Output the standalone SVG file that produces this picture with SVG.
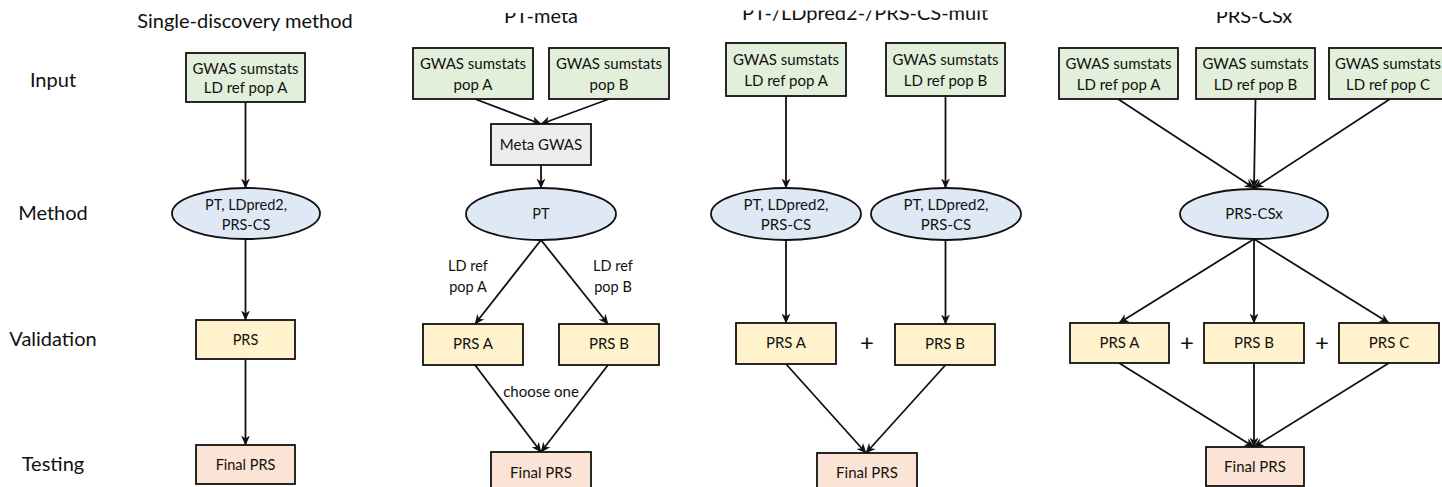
<svg xmlns="http://www.w3.org/2000/svg" width="1442" height="487" viewBox="0 0 1442 487">
<style>
text{font-family:Lato,"Open Sans","Liberation Sans",sans-serif;fill:#111;text-anchor:middle;}
.title{font-size:20px;}
.row{font-size:20px;}
.t{font-size:15px;}
.s{font-size:14.5px;}
.in{fill:#e2efda;stroke:#111;stroke-width:1.8;}
.meta{fill:#ededed;stroke:#111;stroke-width:1.8;}
.me{fill:#dee9f5;stroke:#111;stroke-width:1.8;}
.val{fill:#fff2cc;stroke:#111;stroke-width:1.8;}
.fin{fill:#fbe4d6;stroke:#111;stroke-width:1.8;}
.c line{stroke:#111;stroke-width:1.8;marker-end:url(#ah);}
.plus{font-size:24px;}
</style>
<defs>
<marker id="ah" viewBox="0 0 10 10" refX="9.5" refY="5" markerWidth="10" markerHeight="10" markerUnits="userSpaceOnUse" orient="auto">
<path d="M0,0.5 L10,5 L0,9.5 L3,5 z" fill="#111"/>
</marker>
<clipPath id="c2"><rect x="0" y="13" width="1442" height="30"/></clipPath>
<clipPath id="c3"><rect x="0" y="10.5" width="1442" height="30"/></clipPath>
<clipPath id="c4"><rect x="0" y="12" width="1442" height="30"/></clipPath>
</defs>
<rect width="1442" height="487" fill="#fff"/>

<g id="titles">
<text class="title" x="245" y="28">Single-discovery method</text>
<text class="title" x="541" y="23" clip-path="url(#c2)">PT-meta</text>
<text class="title" x="865" y="20" clip-path="url(#c3)">PT-/LDpred2-/PRS-CS-mult</text>
<text class="title" x="1254" y="23" clip-path="url(#c4)">PRS-CSx</text>
</g>

<g id="row-labels">
<text class="row" x="53" y="87">Input</text>
<text class="row" x="53" y="220">Method</text>
<text class="row" x="53" y="346">Validation</text>
<text class="row" x="53" y="471">Testing</text>
</g>

<g class="c" id="connectors">
<line x1="245.5" y1="102" x2="245.5" y2="188"/>
<line x1="245.5" y1="239" x2="245.5" y2="320"/>
<line x1="245.5" y1="359" x2="245.5" y2="445"/>

<line x1="475" y1="99" x2="541" y2="124"/>
<line x1="609" y1="99" x2="541" y2="124"/>
<line x1="541" y1="165" x2="541" y2="188"/>
<line x1="541" y1="240" x2="475" y2="324"/>
<line x1="541" y1="240" x2="608" y2="324"/>
<line x1="475" y1="365" x2="541" y2="452"/>
<line x1="608" y1="365" x2="541" y2="452"/>

<line x1="786" y1="96" x2="786" y2="188"/>
<line x1="945.5" y1="96" x2="945.5" y2="188"/>
<line x1="786" y1="240" x2="786" y2="323"/>
<line x1="945.5" y1="240" x2="945.5" y2="324"/>
<line x1="786" y1="364" x2="866" y2="453"/>
<line x1="945.5" y1="365" x2="866" y2="453"/>

<line x1="1118" y1="99" x2="1254" y2="188"/>
<line x1="1255.5" y1="99" x2="1254" y2="188"/>
<line x1="1390" y1="99" x2="1254" y2="188"/>
<line x1="1254" y1="239" x2="1119" y2="323"/>
<line x1="1254" y1="239" x2="1254" y2="323"/>
<line x1="1254" y1="239" x2="1389" y2="323"/>
<line x1="1119" y1="363" x2="1254" y2="447"/>
<line x1="1254" y1="363" x2="1254" y2="447"/>
<line x1="1389" y1="363" x2="1254" y2="447"/>
</g>

<!-- Column 1 -->
<g id="c1-input"><rect class="in" x="186" y="53" width="119" height="49"/><text class="t" x="245.5" y="74">GWAS sumstats</text><text class="t" x="245.5" y="93">LD ref pop A</text></g>
<g id="c1-method"><ellipse class="me" cx="246" cy="213.5" rx="74" ry="25.5"/><text class="s" x="246" y="210">PT, LDpred2,</text><text class="s" x="246" y="230">PRS-CS</text></g>
<g id="c1-prs"><rect class="val" x="196" y="320" width="99" height="39"/><text class="s" x="245.5" y="345">PRS</text></g>
<g id="c1-final"><rect class="fin" x="196" y="445" width="99" height="39"/><text class="s" x="245.5" y="470">Final PRS</text></g>

<!-- Column 2 -->
<g id="c2-inputA"><rect class="in" x="413" y="48" width="120" height="51"/><text class="t" x="473" y="69">GWAS sumstats</text><text class="t" x="473" y="90">pop A</text></g>
<g id="c2-inputB"><rect class="in" x="549" y="48" width="120" height="51"/><text class="t" x="609" y="69">GWAS sumstats</text><text class="t" x="609" y="90">pop B</text></g>
<g id="c2-meta"><rect class="meta" x="491" y="124" width="100" height="41"/><text class="t" x="541" y="150">Meta GWAS</text></g>
<g id="c2-method"><ellipse class="me" cx="541" cy="214" rx="75" ry="26"/><text class="s" x="541" y="219">PT</text></g>
<g id="c2-labelA"><text class="s" x="468" y="271">LD ref</text><text class="s" x="468" y="292">pop A</text></g>
<g id="c2-labelB"><text class="s" x="613" y="271">LD ref</text><text class="s" x="613" y="292">pop B</text></g>
<g id="c2-prsA"><rect class="val" x="423" y="324" width="100" height="41"/><text class="t" x="473" y="349">PRS A</text></g>
<g id="c2-prsB"><rect class="val" x="559" y="324" width="100" height="41"/><text class="t" x="609" y="349">PRS B</text></g>
<g id="c2-choose"><text class="t" x="541" y="397">choose one</text></g>
<g id="c2-final"><rect class="fin" x="491" y="452" width="100" height="41"/><text class="t" x="541" y="478">Final PRS</text></g>

<!-- Column 3 -->
<g id="c3-inputA"><rect class="in" x="726" y="43" width="120" height="53"/><text class="t" x="786" y="65">GWAS sumstats</text><text class="t" x="786" y="86">LD ref pop A</text></g>
<g id="c3-inputB"><rect class="in" x="886" y="43" width="119" height="53"/><text class="t" x="945.5" y="65">GWAS sumstats</text><text class="t" x="945.5" y="86">LD ref pop B</text></g>
<g id="c3-methodA"><ellipse class="me" cx="786" cy="214" rx="75" ry="26"/><text class="t" x="786" y="210">PT, LDpred2,</text><text class="t" x="786" y="230">PRS-CS</text></g>
<g id="c3-methodB"><ellipse class="me" cx="946" cy="214" rx="75" ry="26"/><text class="t" x="946" y="210">PT, LDpred2,</text><text class="t" x="946" y="230">PRS-CS</text></g>
<g id="c3-prsA"><rect class="val" x="736" y="323" width="100" height="41"/><text class="t" x="786" y="348">PRS A</text></g>
<text class="plus" x="867" y="351">+</text>
<g id="c3-prsB"><rect class="val" x="895" y="324" width="100" height="41"/><text class="t" x="945" y="349">PRS B</text></g>
<g id="c3-final"><rect class="fin" x="817" y="453" width="100" height="41"/><text class="t" x="867" y="478">Final PRS</text></g>

<!-- Column 4 -->
<g id="c4-inputA"><rect class="in" x="1059" y="48" width="119" height="51"/><text class="t" x="1118.5" y="69">GWAS sumstats</text><text class="t" x="1118.5" y="90">LD ref pop A</text></g>
<g id="c4-inputB"><rect class="in" x="1196" y="48" width="119" height="51"/><text class="t" x="1255.5" y="69">GWAS sumstats</text><text class="t" x="1255.5" y="90">LD ref pop B</text></g>
<g id="c4-inputC"><rect class="in" x="1329" y="48" width="119" height="51"/><text class="t" x="1388" y="69">GWAS sumstats</text><text class="t" x="1388" y="90">LD ref pop C</text></g>
<g id="c4-method"><ellipse class="me" cx="1254" cy="214" rx="74" ry="25"/><text class="t" x="1254" y="219">PRS-CSx</text></g>
<g id="c4-prsA"><rect class="val" x="1070" y="323" width="99" height="40"/><text class="t" x="1119.5" y="348">PRS A</text></g>
<text class="plus" x="1187" y="351">+</text>
<g id="c4-prsB"><rect class="val" x="1204" y="323" width="100" height="40"/><text class="t" x="1254" y="348">PRS B</text></g>
<text class="plus" x="1322" y="351">+</text>
<g id="c4-prsC"><rect class="val" x="1339" y="323" width="100" height="40"/><text class="t" x="1389" y="348">PRS C</text></g>
<g id="c4-final"><rect class="fin" x="1206" y="447" width="98" height="39"/><text class="t" x="1255" y="472">Final PRS</text></g>
</svg>
